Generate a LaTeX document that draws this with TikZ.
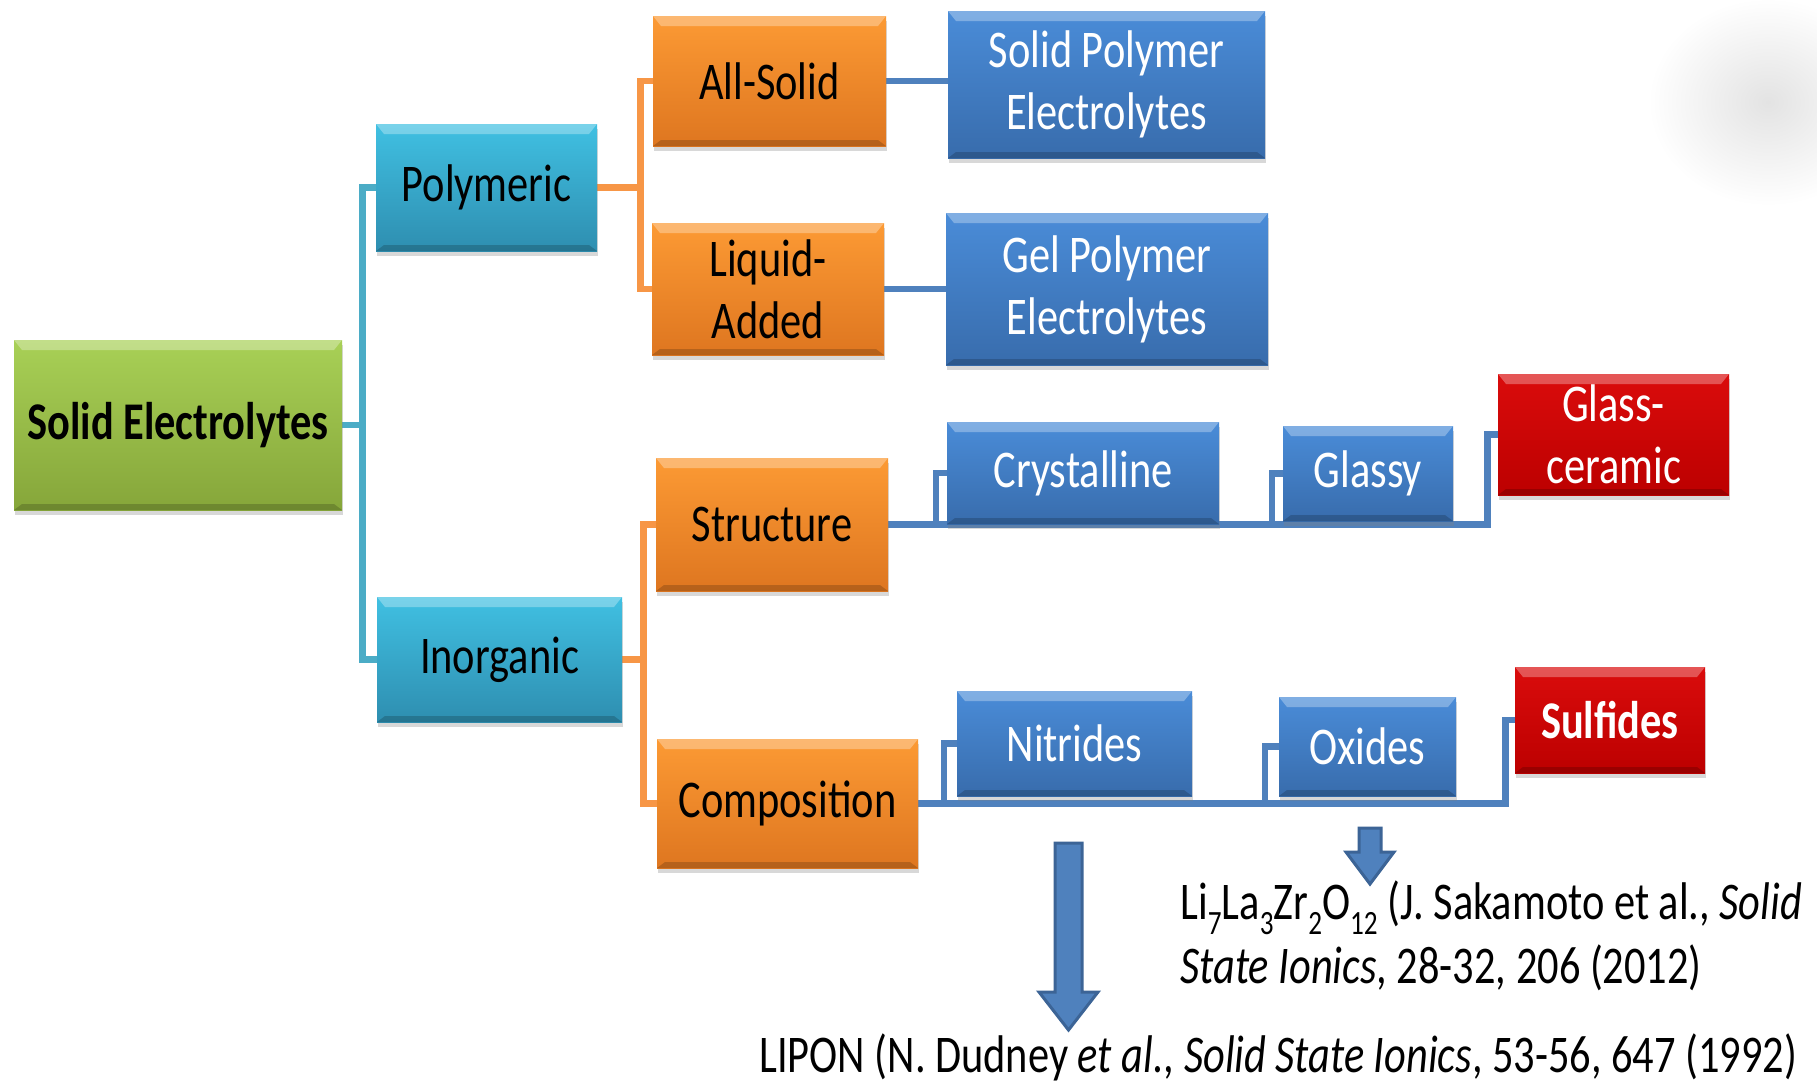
\documentclass[tikz,border=0pt]{standalone}
\usepackage{fontspec}
\setmainfont{Carlito}[FakeStretch=0.8]
\usetikzlibrary{shadows,backgrounds}

\definecolor{aqualine}{HTML}{4BACC6}
\definecolor{orangeline}{HTML}{F79646}
\definecolor{blueline}{HTML}{4F81BD}
\definecolor{bluedark}{HTML}{3C6496}

\newcommand\chemsub[1]{\raisebox{-0.3em}{\fontsize{17}{17}\selectfont #1}}
\newcommand\blockarrow[6]{% centre x, top, neck, tip, half shaft, half head
  \draw[blockarrow] (#1-#5,#2) -- (#1+#5,#2) -- (#1+#5,#3) -- (#1+#6,#3)
    -- (#1,#4) -- (#1-#6,#3) -- (#1-#5,#3) -- cycle;}

\tikzset{
  box/.style={inner sep=0pt, align=center,
    font=\fontsize{26.5}{31}\selectfont,
    drop shadow={shadow xshift=0.5pt, shadow yshift=-2.5pt, opacity=0.3},
    path picture={
      \fill[white, opacity=0.3] (path picture bounding box.north west)
        -- (path picture bounding box.north east)
        -- ([shift={(-4pt,-5pt)}]path picture bounding box.north east)
        -- ([shift={(4pt,-5pt)}]path picture bounding box.north west) -- cycle;
      \fill[black, opacity=0.18] (path picture bounding box.south west)
        -- (path picture bounding box.south east)
        -- ([shift={(-4pt,3pt)}]path picture bounding box.south east)
        -- ([shift={(4pt,3pt)}]path picture bounding box.south west) -- cycle;
    }},
  greenbox/.style={box, top color={rgb,255:red,168;green,208;blue,86}, bottom color={rgb,255:red,134;green,166;blue,58}},
  aquabox/.style={box, top color={rgb,255:red,64;green,192;blue,226}, bottom color={rgb,255:red,46;green,142;blue,176}},
  orangebox/.style={box, top color={rgb,255:red,252;green,154;blue,52}, bottom color={rgb,255:red,222;green,118;blue,32}},
  bluebox/.style={box, text=white, top color={rgb,255:red,74;green,140;blue,216}, bottom color={rgb,255:red,56;green,108;blue,172}},
  redbox/.style={box, text=white, top color={rgb,255:red,218;green,12;blue,12}, bottom color={rgb,255:red,188;green,0;blue,0}},
  boldtext/.style={font=\fontsize{26.5}{31}\selectfont\bfseries},
  link/.style={line width=3.1pt},
  blockarrow/.style={fill=blueline, draw=bluedark, line width=1.5pt, line join=miter},
  cite/.style={anchor=base west, inner sep=0pt, font=\fontsize{26.5}{32}\selectfont}
}

\begin{document}
\begin{tikzpicture}[x=0.5pt, y=-0.5pt]
    \useasboundingbox (0,0) rectangle (1817,1084);

    % tree
    \node[greenbox, boldtext, minimum width=164pt, minimum height=85pt] (solid) at (178,425) {Solid Electrolytes};
    \node[aquabox, minimum width=110.5pt, minimum height=63.5pt] (poly) at (486.5,187.5) {Polymeric};
    \node[aquabox, minimum width=122.5pt, minimum height=62.5pt] (inorg) at (499.5,659.5) {Inorganic};
    \node[orangebox, minimum width=116.5pt, minimum height=65pt] (allsolid) at (769.5,81) {All-Solid};
    \node[orangebox, minimum width=116pt, minimum height=66pt] (liquid) at (768,289) {Liquid-\\Added};
    \node[orangebox, minimum width=116pt, minimum height=66.5pt] (struct) at (772,524.5) {Structure};
    \node[orangebox, minimum width=130.5pt, minimum height=64.5pt] (comp) at (787.5,803.5) {Composition};
    \node[bluebox, minimum width=158.5pt, minimum height=73.5pt] (spe) at (1106.5,84.5) {Solid Polymer\\Electrolytes};
    \node[bluebox, minimum width=161pt, minimum height=76pt] (gpe) at (1107,289) {Gel Polymer\\Electrolytes};
    \node[bluebox, minimum width=136pt, minimum height=51pt] (cryst) at (1083,473) {Crystalline};
    \node[bluebox, minimum width=85pt, minimum height=47.5pt] (glassy) at (1368,473.5) {Glassy};
    \node[redbox, minimum width=115.5pt, minimum height=60.5pt] (glasscer) at (1613.5,434.5) {Glass-\\ceramic};
    \node[bluebox, minimum width=117.5pt, minimum height=52.5pt] (nitr) at (1074.5,743.5) {Nitrides};
    \node[bluebox, minimum width=88.5pt, minimum height=49.5pt] (oxid) at (1367.5,746.5) {Oxides};
    \node[redbox, boldtext, minimum width=95pt, minimum height=53pt] (sulf) at (1610,720) {Sulfides};

    % references
    \node[cite] (llzoa) at (1180,919) {Li\chemsub{7}La\chemsub{3}Zr\chemsub{2}O\chemsub{12} (J. Sakamoto et al., \textit{Solid}};
    \node[cite] (llzob) at (1180,983) {\textit{State Ionics}, 28-32, 206 (2012)};
    \node[cite] (lipon) at (759,1072) {LIPON (N. Dudney \textit{et al.}, \textit{Solid State Ionics}, 53-56, 647 (1992)};

    \blockarrow{1068.5}{843}{992}{1030}{13.5}{29.5}
    \blockarrow{1370}{828}{852}{884}{11}{24}

    \begin{pgfonlayer}{background}
    \fill[white] (0,0) rectangle (1817,1084);
    \shade[inner color=black!11, outer color=white] (1768,102) ellipse (60pt and 52pt);
    % connectors
    \draw[link, aqualine] (solid.east) -- ++(20,0) |- (poly.west);
    \draw[link, aqualine] (solid.east) -- ++(20,0) |- (inorg.west);
    \draw[link, orangeline] (poly.east) -- ++(43,0) |- (allsolid.west);
    \draw[link, orangeline] (poly.east) -- ++(43,0) |- (liquid.west);
    \draw[link, orangeline] (inorg.east) -- ++(21,0) |- (struct.west);
    \draw[link, orangeline] (inorg.east) -- ++(21,0) |- (comp.west);
    \draw[link, blueline] (allsolid.east) -- (allsolid.east -| spe.west);
    \draw[link, blueline] (liquid.east) -- (liquid.east -| gpe.west);
    \draw[link, blueline] (struct.east) -- ++(599,0) |- (glasscer.west);
    \draw[link, blueline] (struct.east -| cryst.west) ++(-11,0) |- (cryst.west);
    \draw[link, blueline] (struct.east -| glassy.west) ++(-11,0) |- (glassy.west);
    \draw[link, blueline] (comp.east) -- ++(587,0) |- (sulf.west);
    \draw[link, blueline] (comp.east -| nitr.west) ++(-13,0) |- (nitr.west);
    \draw[link, blueline] (comp.east -| oxid.west) ++(-14,0) |- (oxid.west);
    \end{pgfonlayer}
\end{tikzpicture}
\end{document}
